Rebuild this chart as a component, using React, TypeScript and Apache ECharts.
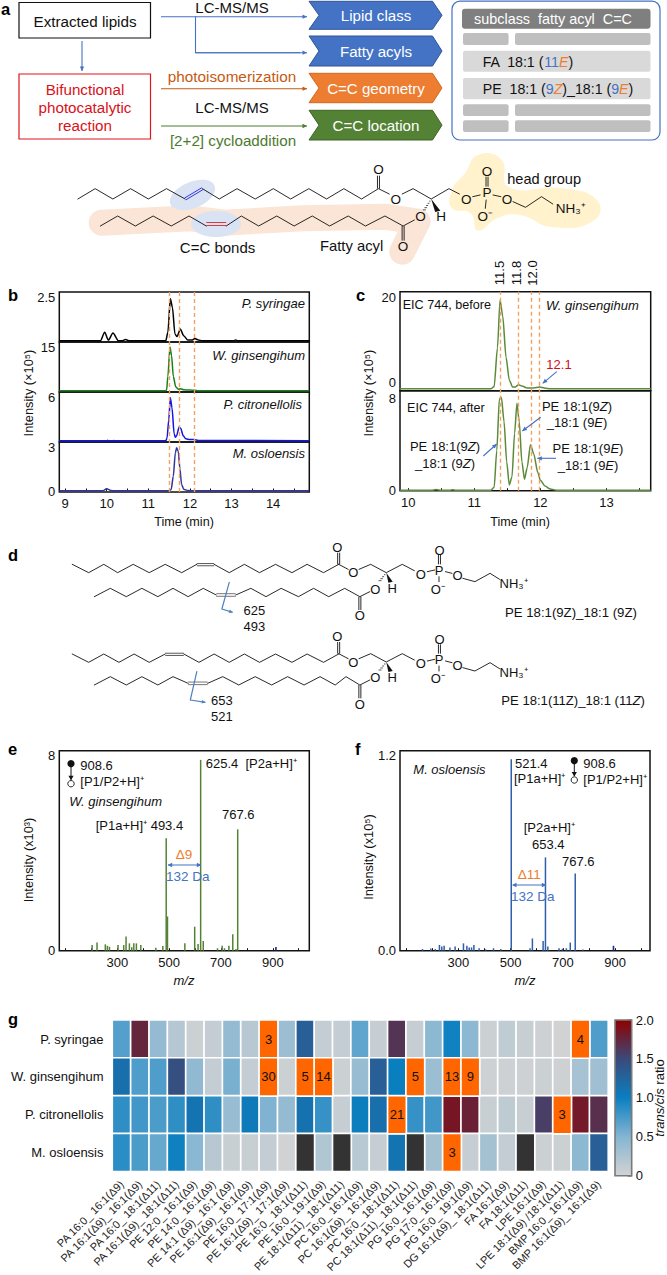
import React, { useEffect, useRef } from "react";
import * as echarts from "echarts";

const FONT = '"Liberation Sans", Arial, sans-serif';

// ---- panel b ----
const syringae = [[8.86,.01],[9.85,.01],[9.95,.5],[10.04,.05],[10.15,.45],[10.28,.02],[10.38,.02],[10.45,.08],[10.55,.01],[11.42,.01],[11.47,.5],[11.53,2.4],[11.58,1.9],[11.64,.4],[11.69,.25],[11.77,.68],[11.85,.3],[11.95,.05],[12.05,.05],[12.12,.14],[12.2,.06],[12.3,.01],[13.05,.01],[13.1,.05],[13.15,.01],[14.87,.01]];
const ginsengihum = [[8.86,.05],[11.4,.05],[11.44,.3],[11.47,5],[11.52,15],[11.56,12],[11.6,5],[11.66,1.4],[11.72,.6],[11.78,.8],[11.85,.4],[12.0,.3],[12.12,.25],[12.2,.08],[14.87,.05]];
const citronellolis = [[8.86,.03],[10,.03],[10.02,.09],[10.05,.03],[10.15,.03],[10.17,.08],[10.2,.03],[11.42,.03],[11.45,.4],[11.49,2.8],[11.53,5.9],[11.57,4.5],[11.62,1],[11.65,.5],[11.68,.7],[11.74,1.9],[11.78,1.7],[11.84,.7],[11.9,.3],[12.0,.2],[12.1,.2],[12.2,.08],[14.87,.03]];
const osloensis = [[8.86,.01],[9.9,.01],[10.0,.15],[10.1,.03],[10.2,.01],[11.5,.01],[11.55,.1],[11.6,1.0],[11.65,2.6],[11.68,2.95],[11.72,2.7],[11.76,1.5],[11.8,.45],[11.85,.12],[11.95,.03],[12.1,.01],[14.87,.01]];
const bTops = [2.5, 15, 6, 3];
const bRows = [syringae, ginsengihum, citronellolis, osloensis];
const bColors = ["#000000", "#1a7f1a", "#1414e6", "#33339c"];
const bDashes = [11.5, 11.74, 12.1];
const bTicks = [9, 10, 11, 12, 13, 14];

// ---- panel c ----
const eicBefore = [[9.87,.1],[11.25,.1],[11.3,.6],[11.35,9],[11.39,19.5],[11.43,16],[11.48,7],[11.53,2],[11.58,.5],[11.62,.5],[11.67,1],[11.72,.7],[11.8,.3],[11.9,.3],[11.99,.5],[12.06,.3],[12.15,.1],[13.67,.1]];
const eicAfter = [[9.87,.03],[10.35,.03],[10.42,.1],[10.5,.04],[10.63,.03],[10.67,.08],[10.72,.03],[11.25,.03],[11.3,.3],[11.34,3.5],[11.38,8],[11.41,8.1],[11.45,6],[11.49,2.5],[11.53,.5],[11.57,1.2],[11.61,5],[11.645,7.6],[11.68,6],[11.72,2.5],[11.76,1],[11.8,2],[11.85,4],[11.9,3.2],[11.96,1.6],[12.0,.9],[12.07,.4],[12.15,.15],[12.25,.04],[13.67,.03]];
const cDashes = [11.39, 11.66, 11.856, 11.99];
const cTicks = [10, 11, 12, 13];

// ---- panels e, f ----
const spectrumE = [[206,.23],[225,.34],[257,.26],[265,.2],[273,.16],[306,.23],[328,.23],[337,.58],[350,.3],[359,.14],[367,.3],[377,.3],[394,.23],[452,.12],[479,.19],[492,4.6],[497,1.4],[564,.3],[602,.98],[615,.27],[625,7.8],[635,.4],[690,.1],[708,.2],[717,.1],[734,.2],[749,.67],[761,.07],[768,4.96]];
const spectrumF = [[166,.01],[198,.014],[215,.01],[231,.035],[240,.025],[249,.03],[271,.02],[291,.025],[323,.045],[336,.03],[345,.02],[354,.02],[363,.035],[383,.015],[408,.008],[438,.015],[466,.01],[506,1.174],[578,.015],[587,.075],[628,.06],[637,.572],[646,.025],[689,.015],[702,.012],[717,.015],[732,.05],[751,.474],[780,.008]];
const precursorE = [[909, .15]];
const precursorF = [[891, .03]];
const msTicks = [300, 500, 700, 900];

// ---- panel g ----
const lipids = ["PA 16:0_ 16:1(Δ9)","PA 16:1(Δ9)_ 16:1(Δ9)","PA 16:0_ 18:1(Δ11)","PA 16:1(Δ9)_ 18:1(Δ11)","PE 12:0_ 16:1(Δ9)","PE 14:0_ 16:1(Δ9)","PE 14:1 (Δ9)_ 16:1 (Δ9)","PE 16:1(Δ9)_ 16:1(Δ9)","PE 16:0_ 17:1(Δ9)","PE 16:1(Δ9)_ 17:1(Δ9)","PE 16:0_ 18:1(Δ11)","PE 16:0_ 19:1(Δ9)","PE 18:1(Δ11)_ 18:1(Δ11)","PC 16:0_ 16:1(Δ9)","PC 16:1(Δ9)_ 16:1(Δ9)","PC 16:0_ 18:1(Δ11)","PC 18:1(Δ11)_ 18:1(Δ11)","PG 16:0_ 16:1(Δ9)","PG 17:0_ 16:1(Δ9)","PG 16:0_ 19:1(Δ9)","DG 16:1(Δ9)_ 18:1(Δ11)","FA 16:1(Δ9)","FA 18:1(Δ11)","LPE 16:1(Δ9)","LPE 18:1(Δ9) /18:1(Δ11)","BMP 16:0_ 16:1(Δ9)","BMP 16:1(Δ9)_ 16:1(Δ9)"];
const strains = ["P. syringae","W. ginsengihum","P. citronellolis","M. osloensis"];
const ratioSyringae = [.7,1.75,.4,.2,.05,.1,.4,.18,3,.35,1.3,.1,.1,.65,.08,1.65,.08,.45,.97,.45,.05,.12,.07,.03,.02,4,.72];
const ratioGinseng = [1.15,.72,.72,1.45,.42,.1,.55,.1,30,.05,5,14,.05,.38,1.3,1.0,5,.35,13,9,.03,.03,.03,.05,.03,.28,.33];
const ratioCitro = [.85,.78,.73,.85,1.1,.85,.38,1.05,.52,.4,1.12,.82,.08,1.02,1.15,21,.82,.78,1.85,1.78,.07,.13,.07,1.58,3,1.83,1.68];
const ratioOslo = [.87,.73,.62,.98,.47,.18,.07,.07,.1,.02,null,.22,null,.17,.08,1.1,null,.3,3,.08,.3,.1,null,.05,.05,.45,1.3];
const ratioRows = [ratioSyringae, ratioGinseng, ratioCitro, ratioOslo];
const rampColors = ["#d3d3d3", "#85b5d2", "#0a7fc0", "#3a4a7a", "#900000"];
const colorbarTicks = [0, .5, 1, 1.5, 2];

// ---- drawing helpers ----
type P = number[];
const T = (text: string, x: number, y: number, o: any = {}) => ({
  type: "text", x, y, rotation: o.rot || 0, z: o.z ?? 20, silent: true,
  style: {
    text, fill: o.color || "#111", fontFamily: FONT, fontSize: o.size || 13,
    fontWeight: o.bold ? "bold" : "normal", fontStyle: o.italic ? "italic" : "normal",
    align: o.align || "left", textAlign: o.align || "left",
    verticalAlign: "middle", textVerticalAlign: "middle", rich: o.rich,
  },
});
const italicRich = (size: number) => ({
  k: { fontFamily: FONT, fontSize: size, fill: "#111" },
  i: { fontFamily: FONT, fontSize: size, fontStyle: "italic", fill: "#111" },
});
const L = (x1: number, y1: number, x2: number, y2: number, stroke: string, lineWidth = 1, z = 20) => ({
  type: "line", z, silent: true, shape: { x1, y1, x2, y2 }, style: { stroke, lineWidth },
});
const PL = (points: P[], stroke: string, lineWidth = 0.9, z = 20) => ({
  type: "polyline", z, silent: true, shape: { points }, style: { stroke, lineWidth, fill: "none", lineJoin: "round", lineCap: "round" },
});
const PG = (points: P[], fill: string, z = 20, stroke?: string, smooth?: number) => ({
  type: "polygon", z, silent: true, shape: { points, smooth }, style: { fill, stroke, lineWidth: stroke ? 1 : 0 },
});
const R = (x: number, y: number, w: number, h: number, fill: string, stroke?: string, lw = 1, r = 0) => ({
  type: "rect", z: 15, silent: true, shape: { x, y, width: w, height: h, r }, style: { fill, stroke, lineWidth: lw },
});
const head = (x1: number, y1: number, x2: number, y2: number, c: string, s = 5) => {
  const a = Math.atan2(y2 - y1, x2 - x1);
  return PG([[x2, y2], [x2 - s * Math.cos(a - .45), y2 - s * Math.sin(a - .45)], [x2 - s * Math.cos(a + .45), y2 - s * Math.sin(a + .45)]], c);
};
const arrow = (x1: number, y1: number, x2: number, y2: number, c: string, lw = 1.1, s = 5) => [L(x1, y1, x2, y2, c, lw), head(x1, y1, x2, y2, c, s)];

const SX = 2.312;
const Z = (pts: P[], oy: number) => pts.map(([x, y]) => [x / SX, oy + y / 3]);

function dbl(x1: number, y1: number, x2: number, y2: number, c: string, gap = 1.8, lw = 0.9) {
  const a = Math.atan2(y2 - y1, x2 - x1), nx = -Math.sin(a) * gap / 2, ny = Math.cos(a) * gap / 2;
  return [L(x1 + nx, y1 + ny, x2 + nx, y2 + ny, c, lw), L(x1 - nx, y1 - ny, x2 - nx, y2 - ny, c, lw)];
}

function buildGraphic() {
  const g: any[] = [];
  const push = (...a: any[]) => a.forEach((e) => (Array.isArray(e) ? g.push(...e) : g.push(e)));
  const BLUE = "#4472c4", OR = "#c55a11", GR = "#4c7a2e";

  // panel letters
  const letters: [string, number, number][] = [["a", 1, 9], ["b", 8, 295], ["c", 356, 295], ["d", 8, 555], ["e", 8, 749], ["f", 355, 749], ["g", 8, 1019]];
  letters.forEach(([s, x, y]) => push(T(s, x, y, { bold: true, size: 16.5, color: "#000" })));

  // ---- flow chart ----
  push(R(19, 2.5, 131.5, 35.5, "#fff", "#111", 1.2));
  push(T("Extracted lipids", 85, 21, { align: "center", size: 15.2 }));
  push(R(19, 74, 131.5, 65, "#fff", "#e0141c", 1.2));
  ["Bifunctional", "photocatalytic", "reaction"].forEach((s, i) => push(T(s, 85, 89 + i * 18, { align: "center", size: 15.2, color: "#d8121a" })));
  push(arrow(82, 41, 82, 71, BLUE));
  push(arrow(161, 16.7, 307, 16.7, BLUE));
  push(PL([[195.5, 16.7], [195.5, 52.7], [300, 52.7]], BLUE, 1.1));
  push(arrow(195.5, 52.7, 307, 52.7, BLUE));
  push(arrow(161, 88.7, 307, 88.7, OR));
  push(arrow(161, 126, 307, 126, GR));
  push(T("LC-MS/MS", 232, 7.8, { align: "center", size: 15 }));
  push(T("photoisomerization", 232, 76, { align: "center", size: 15.3, color: OR }));
  push(T("LC-MS/MS", 232, 107.7, { align: "center", size: 15 }));
  push(T("[2+2] cycloaddition", 233, 140.7, { align: "center", size: 15.2, color: GR }));

  const chevrons: [string, number, number, string, string][] = [
    ["Lipid class", 1.3, 29.3, "#4472c4", "#2f5597"], ["Fatty acyls", 36, 66, "#4472c4", "#2f5597"],
    ["C=C geometry", 73.3, 102.7, "#ed7d31", "#d2691e"], ["C=C location", 110.3, 140, "#548235", "#3f6527"],
  ];
  chevrons.forEach(([s, t, b, f, st]) => {
    const m = (t + b) / 2;
    push(PG([[309, t], [432.5, t], [442, m], [432.5, b], [309, b], [319, m]], f, 15, st));
    push(T(s, 376, m, { align: "center", size: 15.1, color: "#fff" }));
  });

  push(R(452, 1.2, 208, 138.8, "#fff", BLUE, 1.2, 8));
  push(R(462, 8.7, 188.5, 20, "#7f7f7f", undefined, 0, 3));
  push(T("subclass  fatty acyl  C=C", 553, 19, { align: "center", size: 14.4, color: "#fff" }));
  [[33, 45], [104.3, 116], [120.3, 132]].forEach(([a, b]) => {
    push(R(463, a, 45.6, b - a, "#bfbfbf", undefined, 0, 2));
    push(R(515, a, 135.5, b - a, "#bfbfbf", undefined, 0, 2));
  });
  push(R(463, 50.7, 187.5, 21, "#d9d9d9", undefined, 0, 2));
  push(R(463, 78, 187.5, 21.3, "#d9d9d9", undefined, 0, 2));
  const rich = {
    k: { fontFamily: FONT, fontSize: 14.2, fill: "#111", color: "#111" },
    b: { fontFamily: FONT, fontSize: 14.2, fill: "#4472c4", color: "#4472c4" },
    o: { fontFamily: FONT, fontSize: 14.2, fill: "#ed7d31", color: "#ed7d31", fontStyle: "italic" },
  };
  push(T("{k|FA  18:1 (}{b|11}{o|E}{k|)}", 482.7, 62, { rich, size: 14.2 }));
  push(T("{k|PE  18:1 (}{b|9}{o|Z}{k|)_18:1 (}{b|9}{o|E}{k|)}", 482.7, 89, { rich, size: 14.2 }));

  // ---- molecule a: background blobs ----
  push(PL(Z([[235, 668], [440, 655], [520, 668], [700, 655], [890, 650], [965, 665]], 0), "#fbe5d6", 26, 1));
  push(PL(Z([[965, 665], [930, 755]], 0), "#fbe5d6", 26, 1));
  push(PG(Z([[1075, 520], [1105, 465], [1160, 480], [1175, 560], [1300, 565], [1380, 600], [1375, 660], [1280, 682], [1200, 645], [1150, 655], [1105, 692], [1088, 640], [1045, 625], [1045, 570]], 0), "#fff2cc", 1, undefined, 0.5));
  g.push({ type: "ellipse", z: 2, silent: true, x: 192.5, y: 195, rotation: 0.4, shape: { cx: 0, cy: 0, rx: 24, ry: 13 }, style: { fill: "#dae3f3" } });
  g.push({ type: "ellipse", z: 2, silent: true, x: 216, y: 224, shape: { cx: 0, cy: 0, rx: 25, ry: 13 }, style: { fill: "#dae3f3" } });

  // molecule a: bonds
  const up: P[] = [[180,597],[220,566],[261,597],[302,566],[343,597],[385,566],[428,597]];
  const up2: P[] = [[468,566],[507,597],[548,566],[590,597],[632,566],[672,597],[714,566],[755,597],[795,566],[836,597],[875,566],[900,582]];
  push(PL(Z(up, 0), "#111"), PL(Z(up2, 0), "#111"));
  push(dbl(428 / SX, 597 / 3, 468 / SX, 566 / 3, "#2222dd", 2.2));
  const lo: P[] = [[232,678],[272,648],[313,678],[354,648],[396,678],[437,648],[477,678]];
  const lo2: P[] = [[523,678],[558,648],[598,678],[640,648],[680,678],[722,648],[762,678],[805,648],[845,678],[890,648],[932,678],[958,660]];
  push(PL(Z(lo, 0), "#111"), PL(Z(lo2, 0), "#111"));
  push(dbl(477 / SX, 672 / 3, 523 / SX, 672 / 3, "#e0222a", 3));
  push(dbl(875 / SX, 566 / 3, 875 / SX, 527 / 3, "#111", 2));
  push(dbl(932 / SX, 678 / 3, 932 / SX, 722 / 3, "#111", 2));
  push(dbl(1126 / SX, 560 / 3, 1126 / SX, 530 / 3, "#111", 2));
  push(PL(Z([[930,582],[955,566],[997,597],[1038,566],[1062,582]], 0), "#111"));
  push(PL(Z([[1093,590],[1110,585]], 0), "#111"), PL(Z([[1124,600],[1122,625]], 0), "#111"), PL(Z([[1140,585],[1158,590]], 0), "#111"));
  push(PL(Z([[1186,605],[1215,622],[1252,590],[1278,612]], 0), "#111"));
  push(PG(Z([[997,597],[1018,632],[1006,636]], 0), "#111"));
  for (let i = 1; i <= 5; i++) {
    const f = i / 6, x = 997 + (978 - 997) * f, y = 597 + (636 - 597) * f;
    push(L((x - 3 * f - 1) / SX, y / 3, (x + 3 * f + 1) / SX, y / 3, "#111", 0.7));
  }
  const atomsA: [string, number, number][] = [["O",875,508],["O",915,597],["O",1078,597],["P",1126,578],["O",1126,513],["O⁻",1122,650],["O",1172,597],["O",972,650],["H",1020,650],["O",932,740]];
  atomsA.forEach(([s, x, y]) => push(T(s, x / SX, y / 3, { align: "center", size: 13.5 })));
  push(T("NH₃⁺", 1285 / SX, 625 / 3, { size: 13.5 }));
  push(T("head group", 1258 / SX, 179, { align: "center", size: 14.6 }));
  push(T("C=C bonds", 503 / SX, 247, { align: "center", size: 15 }));
  push(T("Fatty acyl", 813 / SX, 246, { align: "center", size: 14.8 }));

  // ---- panel d molecules ----
  const tail = (oy: number) => {
    push(PL(Z([[783,103],[805,118]], oy), "#111"));
    push(dbl(783 / SX, oy + 103 / 3, 783 / SX, oy + 68 / 3, "#111", 2));
    push(PL(Z([[830,118],[857,103],[893,128],[930,103],[958,122]], oy), "#111"));
    push(PL(Z([[988,125],[1005,120]], oy), "#111"), PL(Z([[1015,140],[1015,155]], oy), "#111"), PL(Z([[1030,125],[1045,130]], oy), "#111"));
    push(dbl(1016 / SX, oy + 103 / 3, 1016 / SX, oy + 75 / 3, "#111", 2));
    push(PL(Z([[1070,145],[1098,155],[1133,130],[1155,148]], oy), "#111"));
    push(PG(Z([[893,128],[908,155],[898,158]], oy), "#111"));
    for (let i = 1; i <= 4; i++) {
      const f = i / 5, x = 893 + (875 - 893) * f, y = 128 + (158 - 128) * f;
      push(L((x - 3 * f - 1) / SX, oy + y / 3, (x + 3 * f + 1) / SX, oy + y / 3, "#111", 0.7));
    }
    const atoms: [string, number, number][] = [["O",780,52],["O",817,128],["O",973,132],["P",1015,120],["O",1016,60],["O⁻",1012,178],["O",1058,137],["H",907,175]];
    atoms.forEach(([s, x, y]) => push(T(s, x / SX, oy + y / 3, { align: "center", size: 13 })));
    push(T("NH₃⁺", 1155 / SX, oy + 160 / 3, { size: 13 }));
  };
  // first
  push(PL(Z([[167,103],[205,128],[240,103],[272,128],[308,103],[345,128],[382,103],[420,128],[455,103]], 530), "#111"));
  push(dbl(455 / SX, 530 + 104 / 3, 495 / SX, 530 + 104 / 3, "#444", 2.2));
  push(PL(Z([[495,103],[530,128],[565,103],[600,128],[637,103],[675,128],[710,103],[748,128],[783,103]], 530), "#111"));
  tail(530);
  push(PL(Z([[218,200],[255,175],[292,200],[328,175],[365,200],[400,175],[435,200],[470,175],[500,195]], 530), "#111"));
  push(dbl(500 / SX, 530 + 195 / 3, 545 / SX, 530 + 195 / 3, "#666", 2.6));
  push(PL(Z([[545,195],[580,175],[615,200],[650,175],[690,200],[725,175],[760,200],[797,175],[832,200],[855,185]], 530), "#111"));
  push(dbl(832 / SX, 530 + 200 / 3, 832 / SX, 530 + 240 / 3, "#111", 2));
  push(T("O", 868 / SX, 530 + 177 / 3, { align: "center", size: 13 }), T("O", 832 / SX, 530 + 255 / 3, { align: "center", size: 13 }));
  push(PL(Z([[530,157],[513,237]], 530), "#4f81bd", 1.2));
  push(arrow(513 / SX, 530 + 237 / 3, 538 / SX, 530 + 247 / 3, "#4f81bd", 1.2, 4));
  push(T("625", 588 / SX, 530 + 240 / 3, { align: "center", size: 13 }), T("493", 588 / SX, 530 + 290 / 3, { align: "center", size: 13 }));
  push(T("PE 18:1(9Z)_18:1 (9Z)", 1320 / SX, 612.7, { align: "center", size: 13.2 }));
  // second
  const oy2 = 530 + 268 / 3;
  push(PL(Z([[167,372],[205,397],[240,372],[275,397],[310,372],[345,397],[382,372]], 530), "#111"));
  push(dbl(382 / SX, 530 + 373 / 3, 425 / SX, 530 + 373 / 3, "#444", 2.2));
  push(PL(Z([[425,372],[460,397],[495,372],[530,397],[565,372],[600,397],[637,372],[675,397],[710,372],[748,397],[783,372]], 530), "#111"));
  tail(oy2);
  push(PL(Z([[218,465],[255,440],[292,465],[328,440],[365,465],[400,440],[435,460]], 530), "#111"));
  push(dbl(435 / SX, 530 + 460 / 3, 480 / SX, 530 + 460 / 3, "#666", 2.6));
  push(PL(Z([[480,460],[515,440],[552,465],[590,440],[628,465],[665,440],[703,465],[740,440],[775,465],[800,440],[832,465],[855,450]], 530), "#111"));
  push(dbl(832 / SX, 530 + 465 / 3, 832 / SX, 530 + 505 / 3, "#111", 2));
  push(T("O", 868 / SX, 530 + 443 / 3, { align: "center", size: 13 }), T("O", 832 / SX, 530 + 523 / 3, { align: "center", size: 13 }));
  push(PL(Z([[455,425],[440,510]], 530), "#4f81bd", 1.2));
  push(arrow(440 / SX, 530 + 510 / 3, 475 / SX, 530 + 517 / 3, "#4f81bd", 1.2, 4));
  push(T("653", 513 / SX, 530 + 510 / 3, { align: "center", size: 13 }), T("521", 513 / SX, 530 + 560 / 3, { align: "center", size: 13 }));
  push(T("{k|PE 18:1(11Z)_18:1 (11}{i|Z}{k|)}", 1325 / SX, 530 + 510 / 3, { align: "center", size: 13.1, rich: italicRich(13.1) }));

  // ---- panel b text ----
  push(T("P. syringae", 305, 303, { align: "right", italic: true }));
  push(T("W. ginsengihum", 305, 355, { align: "right", italic: true }));
  push(T("P. citronellolis", 302, 404, { align: "right", italic: true }));
  push(T("M. osloensis", 305, 453, { align: "right", italic: true }));
  push(T("Intensity (×10⁵)", 28, 393, { align: "center", rot: Math.PI / 2, size: 12.8 }));
  push(T("Time (min)", 184, 522, { align: "center", size: 12.6 }));

  // ---- panel c text ----
  [["11.5", 499.3], ["11.8", 516.7], ["12.0", 532]].forEach(([s, x]) => push(T(s as string, x as number, 273, { align: "center", rot: Math.PI / 2 })));
  push(T("EIC 744, before", 402.7, 305, { size: 12.6 }));
  push(T("W. ginsengihum", 546, 305, { italic: true }));
  push(T("12.1", 559, 364, { align: "center", color: "#d0101a" }));
  push(arrow(556.7, 371.7, 542.7, 383.3, "#4472c4"));
  push(T("EIC 744, after", 407, 407.7, { size: 12.6 }));
  const ri = italicRich(13);
  push(T("{k|PE 18:1(9}{i|Z}{k|)}", 577, 406, { align: "center", rich: ri }), T("{k|_18:1 (9}{i|E}{k|)}", 577, 422.7, { align: "center", rich: ri }));
  push(arrow(540.7, 417.3, 522.3, 431, "#4472c4"));
  push(T("{k|PE 18:1(9}{i|Z}{k|)}", 445, 446, { align: "center", rich: ri }), T("{k|_18:1 (9}{i|Z}{k|)}", 445, 463.3, { align: "center", rich: ri }));
  push(arrow(483.3, 456, 496.7, 444, "#4472c4"));
  push(T("{k|PE 18:1(9}{i|E}{k|)}", 588, 448.3, { align: "center", rich: ri }), T("{k|_18:1 (9}{i|E}{k|)}", 588, 465, { align: "center", rich: ri }));
  push(arrow(556, 458.3, 537.3, 458.3, "#4472c4"));
  push(T("Intensity (×10⁵)", 368.5, 393, { align: "center", rot: Math.PI / 2, size: 12.8 }));
  push(T("Time (min)", 520, 522, { align: "center", size: 12.6 }));

  // ---- panel e text ----
  const prec = (x: number, y1: number, y2: number) => {
    g.push({ type: "circle", z: 20, silent: true, shape: { cx: x, cy: y1, r: 3.6 }, style: { fill: "#111" } });
    push(L(x, y1, x, y2 - 4, "#111", 1));
    push(PG([[x - 2.6, y2 - 8], [x + 2.6, y2 - 8], [x, y2 - 3.5]], "#111"));
    g.push({ type: "circle", z: 20, silent: true, shape: { cx: x, cy: y2, r: 3.2 }, style: { fill: "#fff", stroke: "#111", lineWidth: 0.9 } });
  };
  prec(71, 763.7, 783.7);
  push(T("908.6", 80.3, 765), T("[P1/P2+H]⁺", 80.3, 781.7));
  push(T("W. ginsengihum", 69.3, 801.7, { italic: true }));
  push(T("625.4  [P2a+H]⁺", 205.7, 763));
  push(T("767.6", 238.3, 814, { align: "center" }));
  push(T("[P1a+H]⁺ 493.4", 95.7, 825));
  push(T("Δ9", 184, 854, { align: "center", color: "#ed7d31", size: 13.5 }));
  push(L(168, 865, 201, 865, "#4472c4", 1.1), head(180, 865, 167.7, 865, "#4472c4", 5), head(190, 865, 201.3, 865, "#4472c4", 5));
  push(T("132 Da", 187.7, 876, { align: "center", color: "#4472c4", size: 13.5 }));
  push(T("Intensity (x10³)", 28, 860, { align: "center", rot: Math.PI / 2, size: 12.8 }));
  push(T("m/z", 184, 980, { align: "center", italic: true }));

  // ---- panel f text ----
  push(T("M. osloensis", 413.3, 769.3, { italic: true }));
  push(T("521.4", 515, 763.3), T("[P1a+H]⁺", 514, 778.3));
  prec(574.3, 760.7, 780);
  push(T("908.6", 583.3, 763), T("[P1/P2+H]⁺", 583.3, 779));
  push(T("[P2a+H]⁺", 549.3, 827.3, { align: "center" }), T("653.4", 548.3, 844.3, { align: "center" }));
  push(T("767.6", 578.3, 861, { align: "center" }));
  push(T("Δ11", 529.3, 874, { align: "center", color: "#ed7d31", size: 13.5 }));
  push(L(513, 885, 546, 885, "#4472c4", 1.1), head(524, 885, 512, 885, "#4472c4", 5), head(534, 885, 546.3, 885, "#4472c4", 5));
  push(T("132 Da", 532.7, 896.7, { align: "center", color: "#4472c4", size: 13.5 }));
  push(T("Intensity (x10⁵)", 368.3, 857, { align: "center", rot: Math.PI / 2, size: 12.8 }));
  push(T("m/z", 525, 980, { align: "center", italic: true }));

  // ---- panel g extras ----
  push({ type: "rect", z: 20, silent: true, shape: { x: 615, y: 1020, width: 16.7, height: 155.7 }, style: { fill: "none", stroke: "#7a7a7a", lineWidth: 1.6 } });
  push(T("{i|trans/cis}{k| ratio}", 659.5, 1098, { align: "center", rot: Math.PI / 2, rich: italicRich(13) }));
  return g;
}

function buildOption() {
  const grid: any[] = [], xAxis: any[] = [], yAxis: any[] = [], series: any[] = [];
  const lab = { fontFamily: FONT, fontSize: 13, color: "#111" };

  const addGrid = (left: number, top: number, w: number, h: number, show = true) => {
    grid.push({ left, top, width: w, height: h, show, borderColor: "#111", borderWidth: show ? 1.5 : 0, backgroundColor: "transparent", containLabel: false });
    return grid.length - 1;
  };
  const xv = (gi: number, min: number, max: number, ticks: number[] | null, allTicks: number[] | null) => xAxis.push({
    gridIndex: gi, type: "value", min, max, splitLine: { show: false },
    axisLine: { show: false },
    axisTick: allTicks ? { show: true, inside: true, length: 2.5, customValues: allTicks, lineStyle: { color: "#111" } } : { show: false },
    axisLabel: ticks ? { show: true, ...lab, margin: 5, customValues: ticks, formatter: (v: number) => String(v) } : { show: false },
  });
  const yv = (gi: number, min: number, max: number, ticks: number[] | null, fmt?: (v: number) => string, extra: any = {}) => yAxis.push({
    gridIndex: gi, type: "value", min, max, splitLine: { show: false },
    axisLine: { show: false }, axisTick: { show: false },
    axisLabel: ticks ? { show: true, ...lab, margin: 4, customValues: ticks, formatter: fmt || ((v: number) => String(v)), ...extra } : { show: false },
  });
  const lineSeries = (gi: number, data: number[][], color: string, width = 1.5) => series.push({
    type: "line", xAxisIndex: gi, yAxisIndex: gi, data, showSymbol: false, smooth: 0.25, smoothMonotone: "x",
    lineStyle: { color, width }, silent: true, z: 3,
  });
  const dashSeries = (gi: number, min: number, max: number, xs: number[]) => series.push({
    type: "line", xAxisIndex: gi, yAxisIndex: gi, data: [[min, 0], [max, 0]], showSymbol: false, lineStyle: { opacity: 0 }, silent: true, z: 4,
    markLine: { silent: true, symbol: "none", label: { show: false }, lineStyle: { color: "#f4a05f", type: [4, 3], width: 1.4 }, data: xs.map((v) => ({ xAxis: v })) },
  });

  // heat map is series 0..2 (the ramp applies to series 0 only)
  const gH = addGrid(112.5, 1020.2, 495.5, 155.6, false);
  xAxis.push({
    gridIndex: gH, type: "category", data: lipids, axisLine: { show: false }, axisTick: { show: false }, splitLine: { show: false },
    axisLabel: { interval: 0, rotate: 45, fontFamily: FONT, fontSize: 11, color: "#222", margin: 11 },
  });
  yAxis.push({
    gridIndex: gH, type: "category", data: strains, inverse: true, axisLine: { show: false }, axisTick: { show: false }, splitLine: { show: false },
    axisLabel: { ...lab, fontSize: 13, margin: 9 },
  });
  const cells: number[][] = [], over: number[][] = [], missing: number[][] = [];
  ratioRows.forEach((row, y) => row.forEach((v, x) => {
    if (v === null) missing.push([x, y, 0]);
    else if (v > 2) over.push([x, y, v]);
    else cells.push([x, y, v]);
  }));
  const cellStyle = { borderColor: "#fff", borderWidth: 1.7 };
  series.push({ type: "heatmap", xAxisIndex: gH, yAxisIndex: gH, data: cells, itemStyle: cellStyle, silent: true });
  series.push({
    type: "heatmap", xAxisIndex: gH, yAxisIndex: gH, data: over, itemStyle: cellStyle, silent: true,
    label: { show: true, fontFamily: FONT, fontSize: 13, color: "#111", formatter: (p: any) => String(p.value[2]) },
  });
  series.push({ type: "heatmap", xAxisIndex: gH, yAxisIndex: gH, data: missing, itemStyle: cellStyle, silent: true });

  // colour bar
  const gC = addGrid(615, 1020, 16.7, 155.7, false);
  xAxis.push({ gridIndex: gC, type: "category", data: ["ratio"], show: false });
  yAxis.push({
    gridIndex: gC, type: "value", position: "right", min: 0, max: 2, splitLine: { show: false }, axisLine: { show: false },
    axisTick: { show: true, inside: true, length: 4, customValues: colorbarTicks, lineStyle: { color: "#777", width: 1.5 } },
    axisLabel: { ...lab, margin: 4, customValues: colorbarTicks, formatter: (v: number) => (v === 0 ? "0" : v.toFixed(1)) },
  });
  series.push({
    type: "bar", xAxisIndex: gC, yAxisIndex: gC, data: [2], barWidth: "100%", silent: true, z: 1,
    itemStyle: {
      color: new echarts.graphic.LinearGradient(0, 1, 0, 0, rampColors.map((color, i) => ({ offset: i / (rampColors.length - 1), color }))),
    },
  });

  // panel b
  const bMin = 8.86, bMax = 14.87;
  const halfB = [9, 9.5, 10, 10.5, 11, 11.5, 12, 12.5, 13, 13.5, 14, 14.5];
  bRows.forEach((pts, i) => {
    const gi = addGrid(59.3, 292 + i * 50, 250, 50);
    const v = bTops[i];
    xv(gi, bMin, bMax, i === 3 ? bTicks : null, i === 3 ? halfB : null);
    yv(gi, -v / 44, v * (1 + 5 / 44), i === 3 ? [0, v] : [v]);
    lineSeries(gi, pts, bColors[i]);
  });
  const gBo = addGrid(59.3, 292, 250, 200, false);
  xv(gBo, bMin, bMax, null, null);
  yv(gBo, 0, 1, null);
  dashSeries(gBo, bMin, bMax, bDashes);

  // panel c
  const cMin = 9.875, cMax = 13.67;
  const gC1 = addGrid(400, 291.7, 250.7, 99);
  xv(gC1, cMin, cMax, null, null);
  yv(gC1, -0.3, 20 * (1 + 6 / 91), [0, 20], undefined, { verticalAlignMinLabel: "bottom" });
  lineSeries(gC1, eicBefore, "#5a8a3a");
  const gC2 = addGrid(400, 390.7, 250.7, 100);
  xv(gC2, cMin, cMax, cTicks, [10, 10.5, 11, 11.5, 12, 12.5, 13, 13.5]);
  yv(gC2, 0, 8 * (1 + 8 / 92), [0, 8]);
  lineSeries(gC2, eicAfter, "#5a8a3a");
  const gCo = addGrid(400, 291.7, 250.7, 199, false);
  xv(gCo, cMin, cMax, null, null);
  yv(gCo, 0, 1, null);
  dashSeries(gCo, cMin, cMax, cDashes);

  // spectra
  const stem = (gi: number, data: number[][], color: string) => series.push({
    type: "bar", xAxisIndex: gi, yAxisIndex: gi, data, barWidth: 1.5, silent: true, itemStyle: { color }, z: 3,
  });
  const dot = (gi: number, data: number[][]) => series.push({
    type: "bar", xAxisIndex: gi, yAxisIndex: gi, data, barWidth: 1.6, silent: true, itemStyle: { color: "#1a2a80" }, z: 3,
  });
  const msMinor = [100, 200, 300, 400, 500, 600, 700, 800, 900, 1000];
  const gE = addGrid(59.3, 750.7, 250, 200);
  xv(gE, 76, 1041, msTicks, msMinor);
  yv(gE, 0, 8 * 200 / 195.7, [0, 8]);
  stem(gE, spectrumE, "#548235");
  dot(gE, precursorE);
  const gF = addGrid(400, 750.7, 250, 200);
  xv(gF, 76.6, 1034, msTicks, msMinor);
  yv(gF, 0, 1.2 * 200 / 195.7, [0, 1.2], (v) => v.toFixed(1));
  stem(gF, spectrumF, "#2f5fa8");
  dot(gF, precursorF);

  return {
    animation: false,
    backgroundColor: "#fff",
    textStyle: { fontFamily: FONT },
    grid, xAxis, yAxis, series,
    visualMap: [
      { show: false, type: "continuous", seriesIndex: 0, dimension: 2, min: 0, max: 2, inRange: { color: rampColors } },
      { show: false, type: "continuous", seriesIndex: 1, dimension: 2, min: 0, max: 100, inRange: { color: ["#ff6600", "#ff6600"] } },
      { show: false, type: "continuous", seriesIndex: 2, dimension: 2, min: 0, max: 1, inRange: { color: ["#333333", "#333333"] } },
    ],
    graphic: { elements: buildGraphic() },
  };
}

export default function App() {
  const ref = useRef<HTMLDivElement>(null);
  useEffect(() => {
    document.body.style.margin = "0";
    const chart = echarts.init(ref.current!, undefined, { renderer: "svg" });
    chart.setOption(buildOption() as any);
    return () => chart.dispose();
  }, []);
  return <div ref={ref} style={{ width: 667, height: 1275 }} />;
}
